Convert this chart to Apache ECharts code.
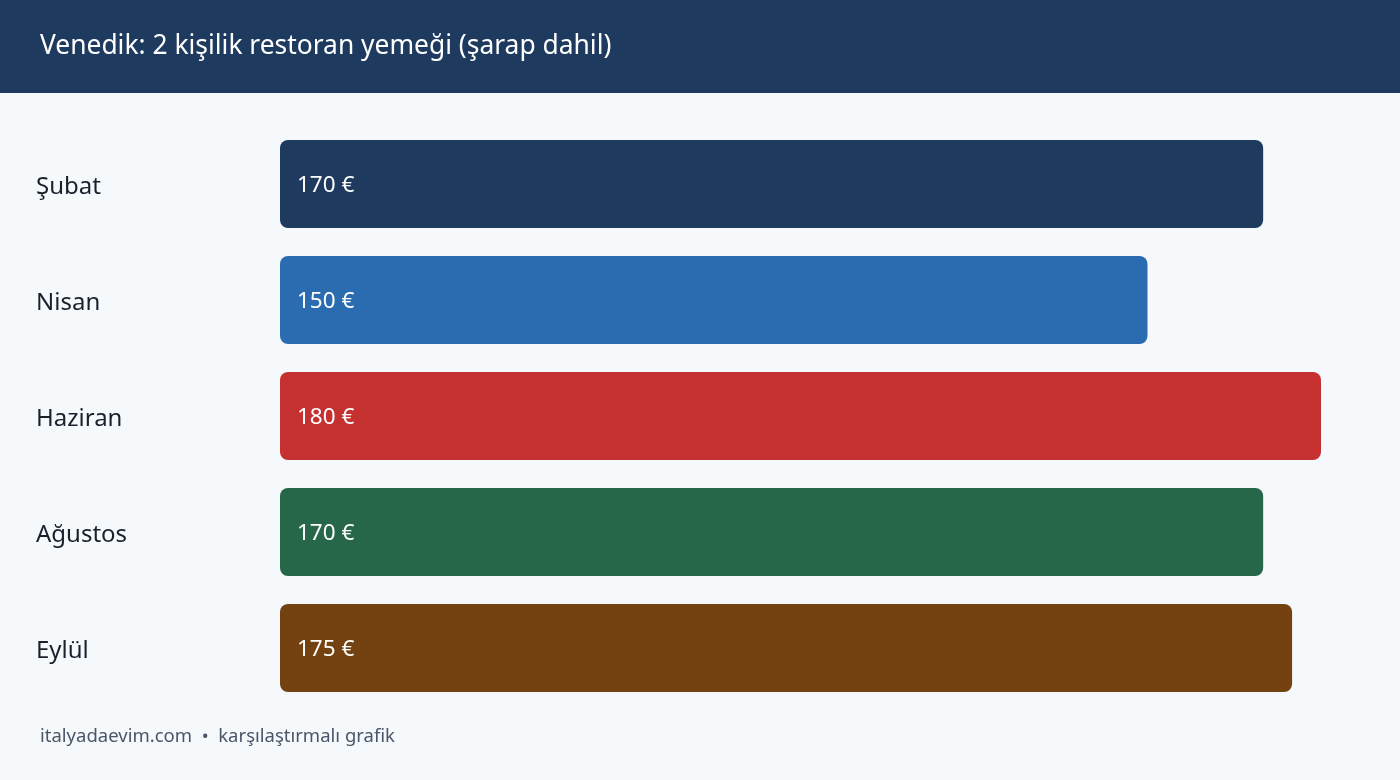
<!DOCTYPE html>
<html><head><meta charset="utf-8">
<script src="https://cdn.jsdelivr.net/npm/echarts@6/dist/echarts.min.js"></script>
<style>html,body{margin:0;padding:0;background:#f5f9fc;}#c{width:1400px;height:780px;}</style>
</head><body><div id="c"></div>
<script>
const titleText = 'Venedik: 2 kişilik restoran yemeği (şarap dahil)';
const footerText = 'italyadaevim.com  •  karşılaştırmalı grafik';
const categories = ['Şubat', 'Nisan', 'Haziran', 'Ağustos', 'Eylül'];
const values = [170, 150, 180, 170, 175];
const barColors = ['#1f3a5f', '#2b6cb0', '#c53030', '#276749', '#744210'];
const FONT = '"Noto Sans", "Open Sans", sans-serif';

const chart = echarts.init(document.getElementById('c'), null, {renderer: 'canvas'});
chart.setOption({
  backgroundColor: '#f5f9fc',
  animation: false,
  textStyle: {fontFamily: FONT},
  graphic: [
    {type: 'rect', x: 0, y: 0, shape: {width: 1400, height: 93}, style: {fill: '#1f3a5f'}, z: 0},
    {type: 'text', x: 40, y: 46, style: {text: titleText, fill: '#ffffff', font: '26.4px ' + FONT, verticalAlign: 'middle', align: 'left'}, z: 1},
    {type: 'text', x: 40, y: 737, style: {text: footerText, fill: '#4a5568', font: '18.5px ' + FONT, verticalAlign: 'middle', align: 'left'}, z: 1}
  ],
  grid: {left: 280, right: 79, top: 126, bottom: 74, containLabel: false},
  xAxis: {type: 'value', min: 0, max: 180, show: false},
  yAxis: {
    type: 'category', data: categories, inverse: true,
    axisLine: {show: false}, axisTick: {show: false}, splitLine: {show: false},
    axisLabel: {align: 'left', margin: 244, color: '#1a202c', fontSize: 24, fontFamily: FONT,
      verticalAlign: 'top', lineHeight: 6}
  },
  series: [{
    type: 'bar',
    barWidth: 88,
    data: values.map((v, i) => ({value: v, itemStyle: {color: barColors[i], borderRadius: 8}})),
    label: {show: true, position: 'insideLeft', distance: 17, color: '#ffffff', fontSize: 22.5, fontFamily: FONT,
      verticalAlign: 'top', lineHeight: 4, formatter: p => p.value + ' €'}
  }]
});
</script></body></html>
